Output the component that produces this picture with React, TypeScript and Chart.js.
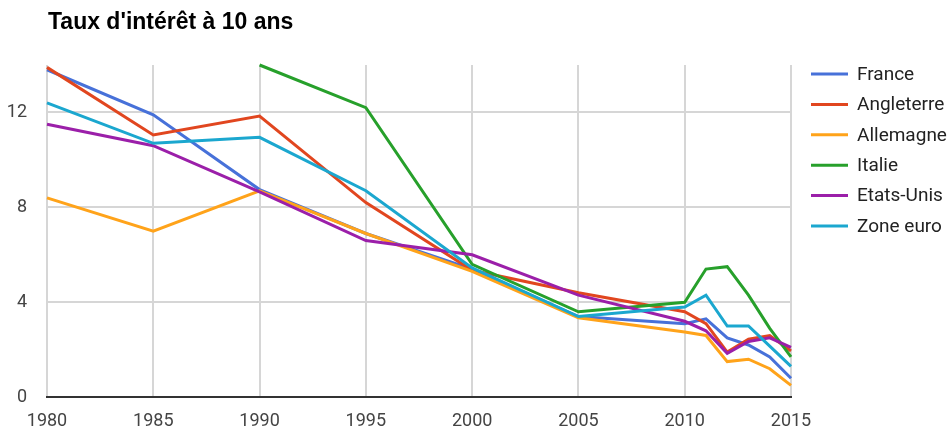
import React, { useEffect, useRef } from "react";
import { Chart, registerables } from "chart.js";

Chart.register(...registerables);

const TITLE = "Taux d'intérêt à 10 ans";
const years = [1980, 1985, 1990, 1995, 2000, 2005, 2010, 2011, 2012, 2013, 2014, 2015];
const xTicks = [1980, 1985, 1990, 1995, 2000, 2005, 2010, 2015];
const yTicks = [0, 4, 8, 12];

const seriesNames = ["France", "Angleterre", "Allemagne", "Italie", "Etats-Unis", "Zone euro"];
const france = [13.8, 11.9, 8.75, 6.9, 5.4, 3.4, 3.1, 3.3, 2.5, 2.2, 1.7, 0.8];
const angleterre = [13.9, 11.05, 11.85, 8.2, 5.35, 4.4, 3.6, 3.1, 1.9, 2.45, 2.6, 1.95];
const allemagne = [8.4, 7.0, 8.7, 6.9, 5.3, 3.35, 2.75, 2.6, 1.5, 1.6, 1.2, 0.5];
const italie = [null, null, 14.0, 12.2, 5.6, 3.6, 4.0, 5.4, 5.5, 4.3, 2.9, 1.7];
const etatsUnis = [11.5, 10.6, 8.65, 6.6, 6.0, 4.3, 3.2, 2.8, 1.85, 2.35, 2.5, 2.1];
const zoneEuro = [12.4, 10.7, 10.95, 8.7, 5.45, 3.4, 3.8, 4.3, 3.0, 3.0, 2.15, 1.3];
const seriesValues = [france, angleterre, allemagne, italie, etatsUnis, zoneEuro];
const colors = ["#4771d9", "#e1461f", "#ffa31a", "#27a02b", "#9b1fa9", "#1ba7cf"];

const titleLegendPlugin = {
  id: "titleLegend",
  afterDraw(chart: any) {
    const ctx = chart.ctx;
    ctx.save();
    ctx.fillStyle = "#000";
    ctx.font = "bold 23px 'Liberation Sans', Arial, sans-serif";
    ctx.textAlign = "left";
    ctx.textBaseline = "alphabetic";
    ctx.fillText(TITLE, 48, 29);

    ctx.font = "19px Roboto, sans-serif";
    ctx.textBaseline = "middle";
    seriesNames.forEach((name, i) => {
      const y = 74 + i * 30.4;
      ctx.strokeStyle = colors[i];
      ctx.lineWidth = 3;
      ctx.beginPath();
      ctx.moveTo(811, y);
      ctx.lineTo(848, y);
      ctx.stroke();
      ctx.fillStyle = "#222";
      ctx.fillText(name, 857, y + 1);
    });
    ctx.restore();
  },
};

export default function App() {
  const ref = useRef<HTMLCanvasElement | null>(null);
  useEffect(() => {
    if (!ref.current) return;
    const chart = new Chart(ref.current, {
      type: "line",
      data: {
        datasets: seriesNames.map((name, i) => ({
          label: name,
          data: years.map((x, j) => ({ x, y: seriesValues[i][j] })),
          borderColor: colors[i],
          backgroundColor: colors[i],
          borderWidth: 3,
          pointRadius: 0,
          tension: 0,
          fill: false,
          clip: false as any,
          order: seriesNames.length - 1 - i,
        })),
      },
      options: {
        animation: false,
        responsive: false,
        maintainAspectRatio: false,
        layout: { padding: { top: 65, right: 157, bottom: 0, left: 0 } },
        plugins: {
          legend: { display: false },
          title: { display: false },
          tooltip: { enabled: false },
        },
        scales: {
          x: {
            type: "linear",
            min: 1980,
            max: 2015,
            afterBuildTicks(scale: any) {
              scale.ticks = xTicks.map((v) => ({ value: v }));
            },
            afterFit(scale: any) {
              scale.height = 30;
            },
            grid: { color: "#d6d6d6", lineWidth: 2, drawTicks: false },
            border: { display: true, color: "#333", width: 2 },
            ticks: {
              padding: 13,
              color: "#444",
              font: { family: "Roboto", size: 18 },
              callback: (v: any) => String(v),
              maxRotation: 0,
              autoSkip: false,
            },
          },
          y: {
            type: "linear",
            min: 0,
            max: 14,
            afterBuildTicks(scale: any) {
              scale.ticks = yTicks.map((v) => ({ value: v }));
            },
            afterFit(scale: any) {
              scale.width = 47;
            },
            grid: {
              color: (c: any) => (c.tick && c.tick.value === 0 ? "rgba(0,0,0,0)" : "#d6d6d6"),
              lineWidth: 2,
              drawTicks: false,
            },
            border: { display: false },
            ticks: {
              padding: 20,
              color: "#444",
              font: { family: "Roboto", size: 18 },
              callback: (v: any) => String(v),
            },
          },
        },
      },
      plugins: [titleLegendPlugin],
    });
    return () => chart.destroy();
  }, []);
  return (
    <div style={{ position: "absolute", left: 0, top: 0, width: 948, height: 428, background: "#fff" }}>
      <canvas ref={ref} width={948} height={428} style={{ width: 948, height: 428 }} />
    </div>
  );
}
